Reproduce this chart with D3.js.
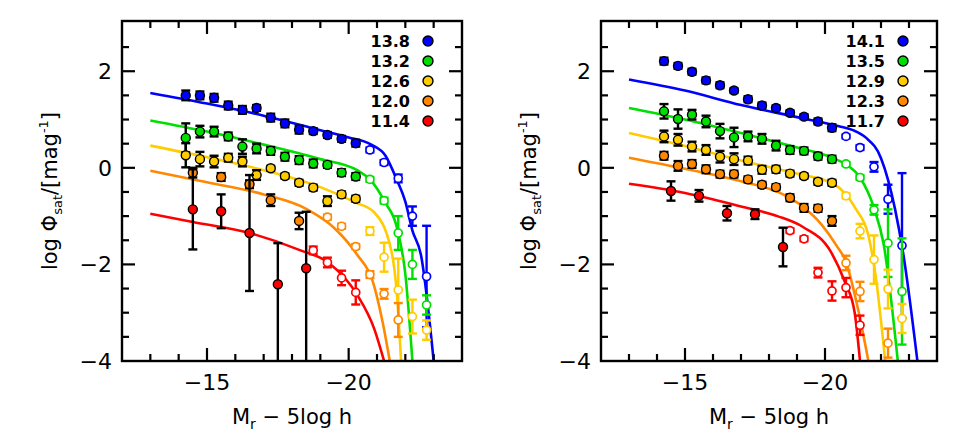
<!DOCTYPE html><html><head><meta charset="utf-8"><script src="https://cdn.jsdelivr.net/npm/d3@7"></script>
<style>body{margin:0;background:#fff}text{font-family:"DejaVu Sans",sans-serif}</style></head><body><svg id="c" width="968" height="447"></svg>
<script>
const colors=["#0000ff","#00e000","#ffcc00","#ff8800","#ff0000"];
const labelsL=["13.8","13.2","12.6","12.0","11.4"];
const labelsR=["14.1","13.5","12.9","12.3","11.7"];
const xTicks=[-15,-20], yTicks=[2,0,-2,-4];
const filledL=[
 {x:[-14.25,-14.75,-15.25,-15.75,-16.25,-16.75,-17.25,-17.75,-18.25,-18.75,-19.25,-19.75,-20.25],y:[1.5,1.5,1.45,1.29,1.2,1.24,1.04,0.92,0.79,0.76,0.68,0.6,0.51],e:[0.1,0.08,0.08,0.08,0.08,0.06,0.08,0.08,0.08,0.06,0.06,0.06,0.07]},
 {x:[-14.25,-14.75,-15.25,-15.75,-16.25,-16.75,-17.25,-17.75,-18.25,-18.75,-19.25,-19.75,-20.25],y:[0.62,0.75,0.75,0.65,0.44,0.4,0.35,0.23,0.16,0.09,0.06,-0.1,-0.18],e:[0.3,0.12,0.1,0.08,0.15,0.1,0.08,0.08,0.08,0.08,0.06,0.07,0.07]},
 {x:[-14.25,-14.75,-15.25,-15.75,-16.25,-16.75,-17.25,-17.75,-18.25,-18.75,-19.25,-19.75,-20.25],y:[0.26,0.18,0.13,0.21,0.13,-0.15,-0.01,-0.17,-0.31,-0.41,-0.69,-0.55,-0.64],e:[0.25,0.15,0.12,0.08,0.1,0.1,0.05,0.05,0.06,0.06,0.1,0.06,0.06]},
 {x:[-14.5,-15.5,-16.5,-17.25,-18.25],y:[-0.1,-0.19,-0.34,-0.67,-1.1],e:[0.1,0.08,0.08,0.12,0.17]},
 {x:[-14.5,-15.5,-16.5,-17.5,-18.5],y:[-0.86,-0.9,-1.35,-2.41,-2.08],e:[0.83,0.35,1.2,0.85,1.17],lo:[0.83,0.35,1.2,2.0,2.0]}
];
const openL=[
 {x:[-20.75,-21.25,-21.75,-22.25,-22.75],y:[0.37,0.11,-0.22,-1.0,-2.25],e:[0.05,0.05,0.08,0.2,1.05]},
 {x:[-20.75,-21.25,-21.75,-22.25,-22.75],y:[-0.24,-0.68,-1.35,-2.0,-2.84],e:[0.05,0.06,0.35,0.3,0.2]},
 {x:[-20.75,-21.25,-21.75,-22.25,-22.75],y:[-1.31,-1.85,-2.53,-3.08,-3.36],e:[0.08,0.3,0.65,0.35,0.2]},
 {x:[-19.25,-19.75,-20.25,-20.75,-21.25,-21.75],y:[-1.02,-1.21,-1.63,-2.21,-2.61,-3.15],e:[0.05,0.05,0.05,0.07,0.1,0.35]},
 {x:[-18.75,-19.25,-19.75,-20.25],y:[-1.71,-1.96,-2.28,-2.58],e:[0.08,0.1,0.15,0.25]}
];
const curvesL=[
 [[-13,1.55],[-15,1.33],[-17,1.08],[-19,0.78],[-20,0.63],[-20.8,0.48],[-21.3,0.25],[-21.7,-0.25],[-22.0,-0.7],[-22.25,-1.3],[-22.55,-1.8],[-23.0,-4]],
 [[-13,0.98],[-15,0.75],[-17,0.48],[-19,0.18],[-20.3,-0.05],[-20.75,-0.24],[-21.25,-0.68],[-21.75,-1.35],[-22.0,-2.2],[-22.25,-4]],
 [[-13,0.46],[-15,0.22],[-17,-0.05],[-19,-0.4],[-20.25,-0.72],[-20.9,-0.92],[-21.5,-1.7],[-21.7,-2.6],[-21.85,-4]],
 [[-13,-0.06],[-15,-0.3],[-17,-0.55],[-18.5,-0.85],[-19.5,-1.25],[-20.3,-1.8],[-20.85,-2.35],[-21.2,-3.2],[-21.45,-4]],
 [[-13,-0.95],[-14.5,-1.12],[-16.5,-1.35],[-18.3,-1.71],[-19.3,-1.97],[-20.3,-2.63],[-20.9,-3.33],[-21.25,-4]]
];
const filledR=[
 {x:[-14.25,-14.75,-15.25,-15.75,-16.25,-16.75,-17.25,-17.75,-18.25,-18.75,-19.25,-19.75,-20.25],y:[2.21,2.11,1.99,1.81,1.71,1.6,1.42,1.29,1.24,1.14,1.06,0.96,0.83],e:[0.07,0.06,0.06,0.06,0.06,0.05,0.06,0.06,0.05,0.05,0.05,0.06,0.07]},
 {x:[-14.25,-14.75,-15.25,-15.75,-16.25,-16.75,-17.25,-17.75,-18.25,-18.75,-19.25,-19.75,-20.25],y:[1.17,1.01,1.1,0.96,0.76,0.63,0.65,0.6,0.46,0.37,0.35,0.24,0.18],e:[0.15,0.2,0.1,0.12,0.15,0.2,0.1,0.1,0.1,0.08,0.07,0.07,0.07]},
 {x:[-14.25,-14.75,-15.25,-15.75,-16.25,-16.75,-17.25,-17.75,-18.25,-18.75,-19.25,-19.75,-20.25],y:[0.65,0.58,0.44,0.37,0.23,0.18,0.15,-0.04,-0.03,-0.12,-0.17,-0.29,-0.31],e:[0.12,0.12,0.1,0.1,0.12,0.12,0.08,0.08,0.07,0.06,0.05,0.06,0.06]},
 {x:[-14.25,-14.75,-15.25,-15.75,-16.25,-16.75,-17.25,-17.75,-18.25,-18.75,-19.25,-19.75,-20.25],y:[0.25,0.04,0.08,-0.03,-0.13,-0.13,-0.24,-0.35,-0.4,-0.62,-0.83,-0.84,-1.1],e:[0.08,0.1,0.08,0.08,0.07,0.07,0.06,0.06,0.06,0.07,0.08,0.07,0.1]},
 {x:[-14.5,-15.5,-16.5,-17.5,-18.5],y:[-0.48,-0.58,-0.94,-0.96,-1.64],e:[0.2,0.12,0.15,0.1,0.4]}
];
const openR=[
 {x:[-20.75,-21.25,-21.75,-22.25,-22.75],y:[0.65,0.42,0.02,-0.65,-1.61],e:[0.04,0.05,0.1,0.3,1.5]},
 {x:[-20.75,-21.25,-21.75,-22.25,-22.75],y:[0.08,-0.2,-0.87,-1.56,-2.56],e:[0.04,0.05,0.1,0.7,1.1]},
 {x:[-20.75,-21.25,-21.75,-22.25,-22.75],y:[-0.58,-1.31,-1.9,-2.51,-3.12],e:[0.05,0.15,0.5,0.4,0.3]},
 {x:[-20.75,-21.25,-22.25],y:[-1.97,-2.56,-3.63],e:[0.15,0.2,0.3]},
 {x:[-18.75,-19.25,-19.75,-20.25,-20.75,-21.25],y:[-1.3,-1.47,-2.17,-2.55,-2.48,-3.26],e:[0.05,0.05,0.1,0.2,0.2,0.2]}
];
const curvesR=[
 [[-13,1.83],[-15,1.6],[-17,1.3],[-19,1.05],[-20.5,0.86],[-21.0,0.78],[-21.45,0.63],[-22.0,0.2],[-22.5,-0.85],[-22.8,-1.8],[-23.3,-4]],
 [[-13,1.24],[-15,1.0],[-17,0.72],[-19,0.42],[-20.3,0.2],[-20.75,0.07],[-21.25,-0.2],[-21.75,-0.83],[-22.1,-1.6],[-22.6,-4]],
 [[-13,0.72],[-15,0.45],[-17,0.15],[-19,-0.12],[-20.3,-0.33],[-20.75,-0.55],[-21.1,-0.85],[-21.55,-1.4],[-21.8,-2.2],[-22.15,-4]],
 [[-13,0.21],[-15,-0.02],[-17,-0.28],[-18.5,-0.55],[-19.2,-0.8],[-19.87,-1.17],[-20.4,-1.6],[-20.75,-1.95],[-21.17,-2.9],[-21.55,-4]],
 [[-13,-0.33],[-15,-0.52],[-17,-0.8],[-18.3,-1.0],[-19.2,-1.22],[-20.2,-1.73],[-20.7,-2.35],[-21.06,-3.0],[-21.25,-4]]
];
const svg=d3.select("#c");
function panel(x0,x1,labels,filled,open,curves,id){
  const x=d3.scaleLinear().domain([-12,-24]).range([x0,x1]);
  const y=d3.scaleLinear().domain([-4,3.04]).range([361,21]);
  const g=svg.append("g");
  g.append("clipPath").attr("id",id).append("rect").attr("x",x0).attr("y",21).attr("width",x1-x0).attr("height",340);
  const pg=g.append("g").attr("clip-path",`url(#${id})`);
  const line=d3.line().x(d=>x(d[0])).y(d=>y(d[1])).curve(d3.curveMonotoneX);
  curves.forEach((c,i)=>pg.append("path").attr("d",line(c)).attr("fill","none").attr("stroke",colors[i]).attr("stroke-width",2.6));
  function bars(s,col){
    s.x.forEach((xv,j)=>{const up=s.y[j]+s.e[j],dn=s.y[j]-(s.lo?s.lo[j]:s.e[j]);const X=x(xv);
      pg.append("line").attr("x1",X).attr("x2",X).attr("y1",y(up)).attr("y2",y(dn)).attr("stroke",col).attr("stroke-width",2.4);
      [up,dn].forEach(v=>pg.append("line").attr("x1",X-4.5).attr("x2",X+4.5).attr("y1",y(v)).attr("y2",y(v)).attr("stroke",col).attr("stroke-width",2.4));});
  }
  open.forEach((s,i)=>{bars(s,colors[i]);s.x.forEach((xv,j)=>pg.append("circle").attr("cx",x(xv)).attr("cy",y(s.y[j])).attr("r",4).attr("fill","#fff").attr("stroke",colors[i]).attr("stroke-width",1.7));});
  filled.forEach((s,i)=>{bars(s,"#000");s.x.forEach((xv,j)=>pg.append("circle").attr("cx",x(xv)).attr("cy",y(s.y[j])).attr("r",4.5).attr("fill",colors[i]).attr("stroke","#000").attr("stroke-width",1.4));});
  const maj=[-15,-20],minX=d3.range(-13,-24,-1),yMaj=[2,0,-2],yMin=d3.range(-3.5,3,0.5);
  const tk=(a,b,c,d)=>g.append("line").attr("x1",a).attr("y1",b).attr("x2",c).attr("y2",d).attr("stroke","#000").attr("stroke-width",2.2);
  minX.forEach(v=>{const L=maj.includes(v)?13:7;tk(x(v),361,x(v),361-L);tk(x(v),21,x(v),21+L);});
  yMin.forEach(v=>{const L=yMaj.some(m=>Math.abs(m-v)<1e-9)?13:7;tk(x0,y(v),x0+L,y(v));tk(x1,y(v),x1-L,y(v));});
  g.append("rect").attr("x",x0).attr("y",21).attr("width",x1-x0).attr("height",340).attr("fill","none").attr("stroke","#000").attr("stroke-width",2.4);
  xTicks.forEach(v=>g.append("text").attr("x",x(v)).attr("y",390).attr("text-anchor","middle").attr("font-size",22).text("\u2212"+Math.abs(v)));
  yTicks.forEach(v=>g.append("text").attr("x",x0-10).attr("y",y(v)+8).attr("text-anchor","end").attr("font-size",22).text(v<0?"\u2212"+Math.abs(v):v));
  labels.forEach((t,i)=>{const yy=41+i*20;
    g.append("text").attr("x",x1-52).attr("y",yy+6).attr("text-anchor","end").attr("font-size",16).attr("font-weight","bold").text(t);
    g.append("circle").attr("cx",x1-34).attr("cy",yy).attr("r",5).attr("fill",colors[i]).attr("stroke","#000").attr("stroke-width",1.4);});
  const xl=g.append("text").attr("x",(x0+x1)/2).attr("y",424).attr("text-anchor","middle").attr("font-size",21);
  xl.append("tspan").text("M");xl.append("tspan").attr("font-size",14).attr("dy",5).text("r");
  xl.append("tspan").attr("dy",-5).text("  \u2212  5log h");
  const yl=g.append("text").attr("transform",`translate(${x0-65},191) rotate(-90)`).attr("text-anchor","middle").attr("font-size",21);
  yl.append("tspan").text("log  \u03A6");yl.append("tspan").attr("font-size",13).attr("dy",5).text("sat");
  yl.append("tspan").attr("dy",-5).text("/[mag");yl.append("tspan").attr("font-size",13).attr("dy",-9).text("-1");
  yl.append("tspan").attr("dy",9).text("]");
}
panel(122,462,labelsL,filledL,openL,curvesL,"cl");
panel(601,937,labelsR,filledR,openR,curvesR,"cr");
</script></body></html>
